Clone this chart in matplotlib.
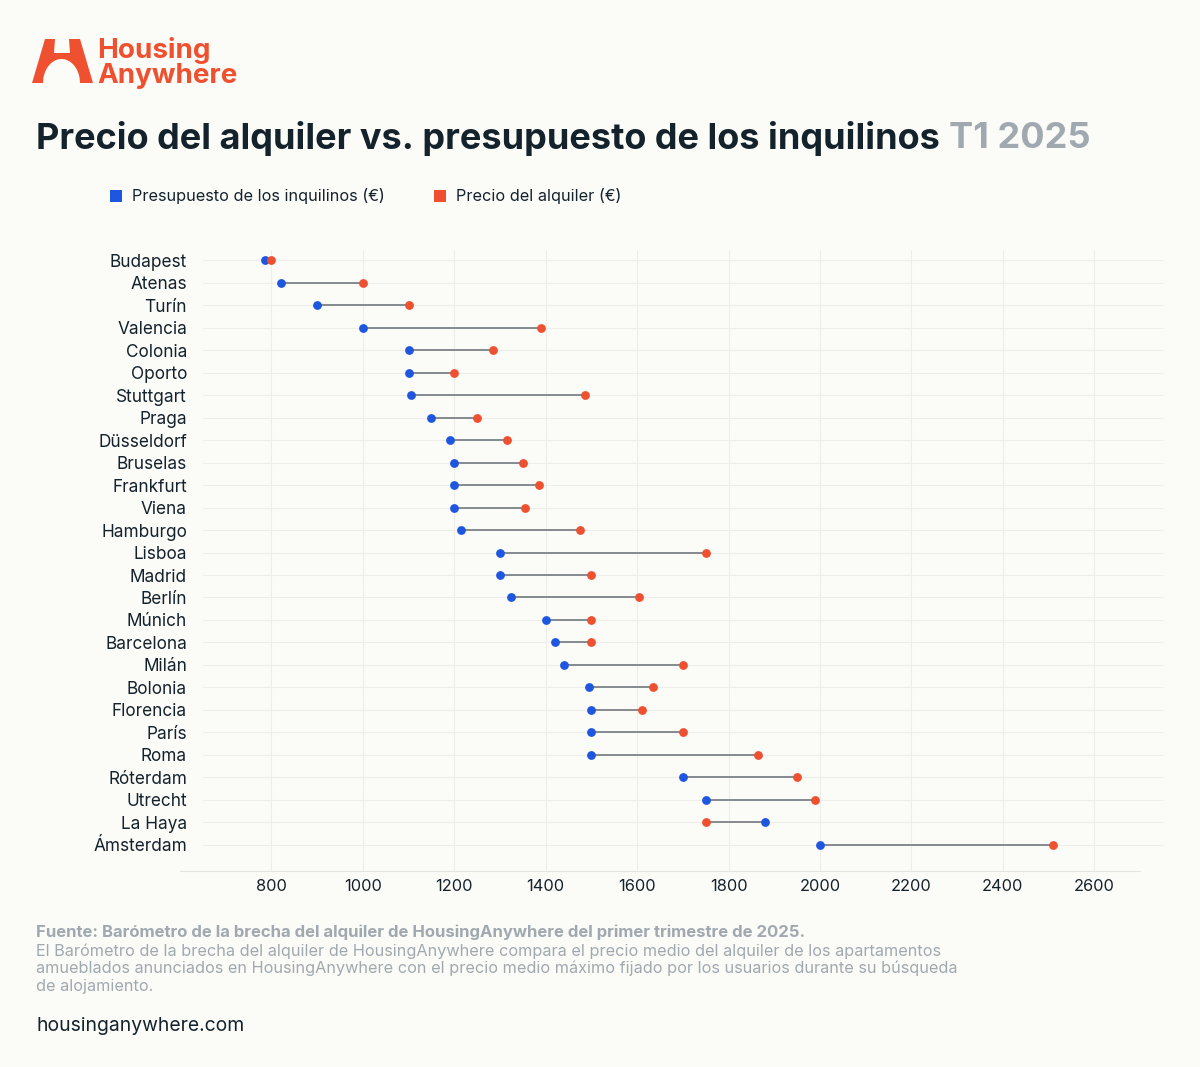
import matplotlib.pyplot as plt
from matplotlib.patches import Polygon, Rectangle
import numpy as np

cities = ['Budapest', 'Atenas', 'Turín', 'Valencia', 'Colonia', 'Oporto', 'Stuttgart',
          'Praga', 'Düsseldorf', 'Bruselas', 'Frankfurt', 'Viena', 'Hamburgo', 'Lisboa',
          'Madrid', 'Berlín', 'Múnich', 'Barcelona', 'Milán', 'Bolonia', 'Florencia',
          'París', 'Roma', 'Róterdam', 'Utrecht', 'La Haya', 'Ámsterdam']
presupuesto = [785, 820, 900, 1000, 1100, 1100, 1105, 1150, 1190, 1200, 1200, 1200, 1215,
               1300, 1300, 1325, 1400, 1420, 1440, 1495, 1500, 1500, 1500, 1700, 1750,
               1880, 2000]
alquiler = [800, 1000, 1100, 1390, 1285, 1200, 1485, 1250, 1315, 1350, 1385, 1355, 1475,
            1750, 1500, 1605, 1500, 1500, 1700, 1635, 1610, 1700, 1865, 1950, 1990,
            1750, 2510]
xticks = [800, 1000, 1200, 1400, 1600, 1800, 2000, 2200, 2400, 2600]

BG = '#FBFBF8'
BLUE = '#1E56E0'
RED = '#EF5030'
DARK = '#14222C'
GREY = '#A0A9B0'

plt.rcParams['font.family'] = ['Inter', 'DejaVu Sans']

fig = plt.figure(figsize=(12, 10.67), dpi=100, facecolor=BG)
W, H = 1200, 1067


def fx(px):
    return px / W


def fy(py):
    return 1 - py / H


# logo: arch shaped "H"
t = np.linspace(0, np.pi, 30)
arch = [(61.5 + 18.5 * np.cos(a), 83 - 24 * np.sin(a)) for a in t]
logo = [(32, 83), (45, 39), (55, 39), (54, 53), (70, 53), (69, 39), (80, 39), (93, 83)] \
    + arch
fig.patches.append(Polygon([(fx(x), fy(y)) for x, y in logo], closed=True,
                           transform=fig.transFigure, facecolor=RED, edgecolor='none'))
fig.text(fx(97), fy(51), 'Housing', color=RED, fontsize=20, fontweight='bold', va='center')
fig.text(fx(97), fy(76), 'Anywhere', color=RED, fontsize=20, fontweight='bold', va='center')

# title
t1 = fig.text(fx(36), fy(139), 'Precio del alquiler vs. presupuesto de los inquilinos',
              color=DARK, fontsize=26, fontweight='bold', va='center')
fig.canvas.draw()
bb = t1.get_window_extent()
fig.text(bb.x1 / W + fx(9), fy(139), 'T1 2025', color=GREY, fontsize=26,
         fontweight='bold', va='center')

# legend
fig.patches.append(Rectangle((fx(110), fy(202)), fx(12), 12 / H, transform=fig.transFigure,
                             facecolor=BLUE, edgecolor='none'))
fig.text(fx(132), fy(196), 'Presupuesto de los inquilinos (€)', color=DARK, fontsize=11.7,
         va='center')
fig.patches.append(Rectangle((fx(434), fy(202)), fx(12), 12 / H, transform=fig.transFigure,
                             facecolor=RED, edgecolor='none'))
fig.text(fx(456), fy(196), 'Precio del alquiler (€)', color=DARK, fontsize=11.7, va='center')

# chart
ax = fig.add_axes([fx(180), fy(871), fx(960), (871 - 250) / H])
ax.set_facecolor(BG)
y = np.arange(len(cities))
ax.hlines(y, 650, 2750, color='#EDEDEA', lw=0.8, clip_on=False, zorder=0)
ax.hlines(y, presupuesto, alquiler, color='#7C8288', lw=1.3, zorder=2)
ax.scatter(presupuesto, y, s=40, color=BLUE, zorder=3, linewidths=0)
ax.scatter(alquiler, y, s=40, color=RED, zorder=4, linewidths=0)

ax.set_xlim(600, 2700)
ax.set_ylim(27.16, -0.45)
ax.set_xticks(xticks)
ax.set_xticklabels([str(v) for v in xticks], fontsize=11.8, color=DARK)
ax.set_yticks(y)
ax.set_yticklabels(cities, fontsize=12.4, color=DARK)
ax.tick_params(length=0, pad=6)
ax.tick_params(axis='y', pad=-5)
ax.grid(axis='x', color='#EDEDEA', lw=0.8)
ax.set_axisbelow(True)
for s in ['top', 'right', 'left']:
    ax.spines[s].set_visible(False)
ax.spines['bottom'].set_color('#E4E4E0')

# footer
fig.text(fx(36), fy(932), 'Fuente: Barómetro de la brecha del alquiler de HousingAnywhere '
         'del primer trimestre de 2025.', color=GREY, fontsize=12, fontweight='bold',
         va='center')
foot = ['El Barómetro de la brecha del alquiler de HousingAnywhere compara el precio medio '
        'del alquiler de los apartamentos',
        'amueblados anunciados en HousingAnywhere con el precio medio máximo fijado por los '
        'usuarios durante su búsqueda',
        'de alojamiento.']
for i, line in enumerate(foot):
    fig.text(fx(36), fy(951 + 17.5 * i), line, color=GREY, fontsize=11.7, va='center')
fig.text(fx(36), fy(1026), 'housinganywhere.com', color=DARK, fontsize=13.9, va='center')

plt.savefig('out.png', dpi=100, facecolor=BG)
